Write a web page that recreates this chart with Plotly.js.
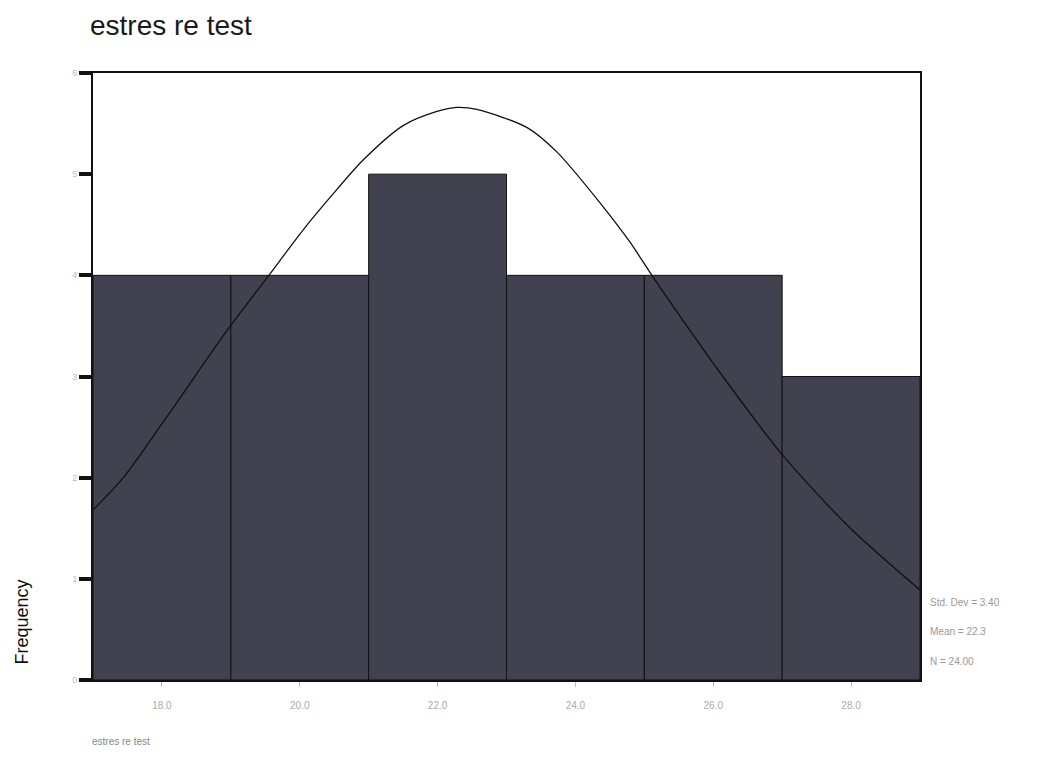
<!DOCTYPE html>
<html>
<head>
<meta charset="utf-8">
<script src="https://cdn.plot.ly/plotly-3.0.1.min.js"></script>
<style>html,body{margin:0;padding:0;background:#fff;}#chart{width:1037px;height:771px;}</style>
</head>
<body>
<div id="chart"></div>
<script>
// Histogram bins (centres) and counts
const binCenters = [18, 20, 22, 24, 26, 28];
const binLabels = ["18.0", "20.0", "22.0", "24.0", "26.0", "28.0"];
const counts = [4, 4, 5, 4, 4, 3];
const binWidth = 2;

// Normal curve points
const curveX = [17.0, 17.44, 18.07, 18.94, 19.53, 20.05, 20.44, 20.92, 21.5, 21.99, 22.28, 22.57, 23.3, 23.73, 24.4, 24.79, 25.13, 26.14, 27.01, 27.99, 29.0];
const curveY = [1.68, 2.0, 2.6, 3.45, 3.98, 4.45, 4.77, 5.14, 5.48, 5.62, 5.66, 5.64, 5.46, 5.22, 4.68, 4.33, 3.98, 3.0, 2.22, 1.5, 0.89];

const yTicks = [0, 1, 2, 3, 4, 5, 6];
const statsLines = ["Std. Dev = 3.40", "Mean = 22.3", "N = 24.00"];
const chartTitle = "estres re test";
const xTitle = "estres re test";
const yTitle = "Frequency";

const bars = {
  type: 'bar', x: binCenters, y: counts, width: binWidth,
  marker: {color: '#424150', line: {color: '#111', width: 1}},
  hoverinfo: 'x+y', showlegend: false
};
const curve = {
  type: 'scatter', mode: 'lines', x: curveX, y: curveY,
  line: {color: '#111', width: 1.3, shape: 'spline', smoothing: 0.8}, showlegend: false
};

const annotations = [
  {text: chartTitle, xref: 'paper', yref: 'paper', x: -0.006, y: 1.079, xanchor: 'left', yanchor: 'middle', showarrow: false,
   font: {family: 'Liberation Sans, Arial, sans-serif', size: 28, color: '#1a1a1a'}},
  {text: yTitle, xref: 'paper', yref: 'paper', x: -0.086, y: 0.096, xanchor: 'center', yanchor: 'middle', textangle: -90, showarrow: false,
   font: {family: 'Liberation Sans, Arial, sans-serif', size: 18, color: '#111'}},
  {text: xTitle, xref: 'paper', yref: 'paper', x: -0.004, y: -0.102, xanchor: 'left', yanchor: 'middle', showarrow: false,
   font: {family: 'Liberation Sans, Arial, sans-serif', size: 10, color: '#888'}}
];
statsLines.forEach((s, i) => {
  annotations.push({text: s, xref: 'paper', yref: 'paper', x: 1.01, y: (680 - 602 - i * 29.5) / 607, xanchor: 'left', yanchor: 'middle', showarrow: false,
    font: {family: 'Liberation Sans, Arial, sans-serif', size: 10, color: '#999'}});
});

const layout = {
  width: 1037, height: 771,
  margin: {l: 93, r: 117, t: 73, b: 91},
  paper_bgcolor: '#fff', plot_bgcolor: '#fff',
  bargap: 0,
  xaxis: {range: [17, 29], tickvals: binCenters, ticktext: binLabels, ticks: 'outside', ticklen: 5, tickcolor: '#bbb',
          ticklabelstandoff: 10,
          showgrid: false, zeroline: false, showline: true, linecolor: '#111', linewidth: 2, mirror: true,
          tickfont: {family: 'Liberation Sans, Arial, sans-serif', size: 10, color: '#aaa'}},
  yaxis: {range: [0, 6], tickvals: yTicks, ticks: 'outside', ticklen: 12, tickwidth: 4, tickcolor: '#111',
          showgrid: false, zeroline: false, showline: true, linecolor: '#111', linewidth: 2, mirror: true,
          tickfont: {family: 'Liberation Sans, Arial, sans-serif', size: 9, color: '#bbb'}},
  annotations: annotations
};

Plotly.newPlot('chart', [bars, curve], layout, {displayModeBar: false, staticPlot: true});
</script>
</body>
</html>
